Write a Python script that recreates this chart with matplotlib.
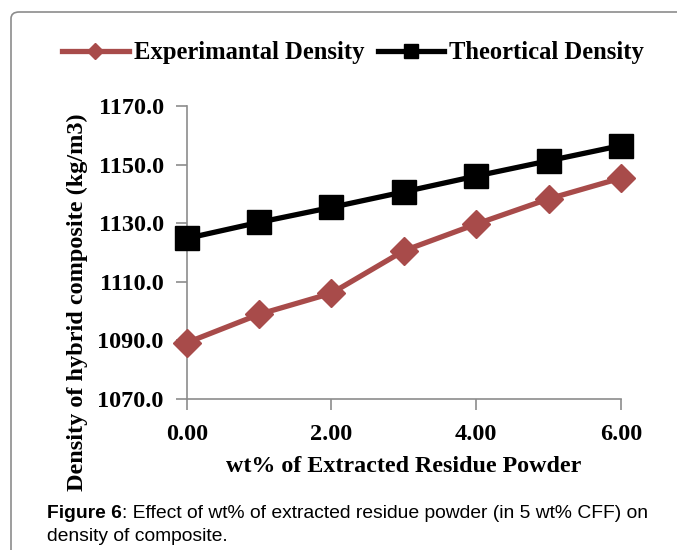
import matplotlib.pyplot as plt
from matplotlib.patches import FancyBboxPatch
from matplotlib.lines import Line2D

# values
wt_pct = [0, 1, 2, 3, 4, 5, 6]
exp_density = [1089.2, 1098.9, 1106.1, 1120.6, 1129.7, 1138.3, 1145.4]
theo_density = [1124.8, 1130.3, 1135.4, 1140.7, 1146.1, 1151.3, 1156.5]
x_ticks = [0, 2, 4, 6]
y_ticks = [1070, 1090, 1110, 1130, 1150, 1170]

red = '#A84B4A'
grey = '#8c8c8c'
serif = 'Liberation Serif'

fig = plt.figure(figsize=(6.77, 5.5), dpi=100)

# the panel frame of the page (open to the right and bottom)
frame = FancyBboxPatch((11/677, -0.2), 1.2, 1 - 12/550 + 0.2,
                       boxstyle='round,pad=0,rounding_size=0.012',
                       transform=fig.transFigure, fill=False,
                       edgecolor=grey, linewidth=1.2, clip_on=False)
fig.patches.append(frame)

ax = fig.add_axes([186.7/677, 1 - 399/550, (621 - 186.7)/677, (399 - 106)/550])
ax.plot(wt_pct, exp_density, color=red, lw=3.8, marker='D', ms=14,
        markeredgecolor=red, clip_on=False, zorder=3)
ax.plot(wt_pct, theo_density, color='black', lw=3.8, marker='s', ms=17,
        clip_on=False, zorder=4)

ax.set_xlim(0, 6)
ax.set_ylim(1070, 1170)
ax.set_xticks(x_ticks)
ax.set_yticks(y_ticks)
ax.set_xticklabels(['%.2f' % v for v in x_ticks])
ax.set_yticklabels(['%.1f' % v for v in y_ticks])
for lab in ax.get_xticklabels() + ax.get_yticklabels():
    lab.set_fontfamily(serif)
    lab.set_fontweight('bold')
    lab.set_fontsize(17.5)
ax.tick_params(direction='out', length=8, width=1.2, color=grey)
ax.tick_params(axis='y', pad=8.5)
ax.tick_params(axis='x', pad=10)
for s in ['top', 'right']:
    ax.spines[s].set_visible(False)
for s in ['left', 'bottom']:
    ax.spines[s].set_color(grey)
    ax.spines[s].set_linewidth(1.2)

ax.set_xlabel('wt% of Extracted Residue Powder', fontfamily=serif,
              fontweight='bold', fontsize=17.3, labelpad=8)
ax.set_ylabel('Density of hybrid composite (kg/m3)', fontfamily=serif,
              fontweight='bold', fontsize=17.5)
ax.yaxis.set_label_coords(-0.227, 0.331)

handles = [Line2D([], [], color=red, lw=3.8, marker='D', ms=8),
           Line2D([], [], color='black', lw=3.8, marker='s', ms=10)]
fig.legend(handles, ['Experimantal Density', 'Theortical Density'],
           loc='center', bbox_to_anchor=(353/677, 1 - 53/550), ncol=2,
           frameon=False, handlelength=2.7, handletextpad=0.2,
           columnspacing=0.55,
           prop={'family': serif, 'weight': 'bold', 'size': 17.7})

# caption below the chart
cap_size = 13.9
cap_x, cap_y = 47/677, 1 - 518/550
t = fig.text(cap_x, cap_y, 'Figure 6', fontfamily='Liberation Sans',
             fontweight='bold', fontsize=cap_size, va='baseline')
fig.canvas.draw()
bb = t.get_window_extent().transformed(fig.transFigure.inverted())
fig.text(bb.x1, cap_y,
         ': Effect of wt% of extracted residue powder (in 5 wt% CFF) on',
         fontfamily='Liberation Sans', fontsize=cap_size, va='baseline')
fig.text(cap_x, 1 - 541/550, 'density of composite.',
         fontfamily='Liberation Sans', fontsize=cap_size, va='baseline')

fig.savefig('out.png', dpi=100)
